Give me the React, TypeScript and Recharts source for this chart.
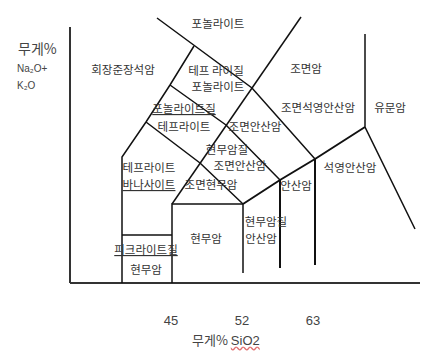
import { ComposedChart, Scatter, XAxis, YAxis } from 'recharts';

document.body.style.margin = '0';

// diagram units: u along SiO2 (axis origin = 0), v along Na2O+K2O
type Pt = { u: number; v: number };

const tickPos = [101, 172, 243];
const tickText = ['45', '52', '63'];

const axisY: Pt[] = [{ u: 0, v: 256 }, { u: 0, v: 0 }];
const axisX: Pt[] = [{ u: 0, v: 0 }, { u: 350, v: 0 }];

const phonoliteTop: Pt[] = [{ u: 87, v: 265 }, { u: 182, v: 195 }, { u: 245, v: 124 }];
const trachyteLeft: Pt[] = [{ u: 231, v: 266 }, { u: 102, v: 79 }];
const foiditeEdge: Pt[] = [{ u: 124, v: 237 }, { u: 100, v: 198 }, { u: 76, v: 161 }, { u: 52, v: 126 }, { u: 52, v: 0 }];
const secondDiag: Pt[] = [{ u: 100, v: 198 }, { u: 156, v: 158 }, { u: 210, v: 103 }];
const thirdDiag: Pt[] = [{ u: 76, v: 161 }, { u: 130, v: 120 }, { u: 173, v: 79 }];
const alkaliLine: Pt[] = [{ u: 173, v: 79 }, { u: 210, v: 103 }, { u: 245, v: 124 }, { u: 295, v: 156 }];
const rhyoliteEdge: Pt[] = [{ u: 295, v: 249 }, { u: 295, v: 156 }, { u: 345, v: 54 }];
const basaltBox: Pt[] = [{ u: 102, v: 0 }, { u: 102, v: 79 }, { u: 173, v: 79 }, { u: 173, v: 10 }];
const line57: Pt[] = [{ u: 210, v: 103 }, { u: 210, v: 15 }];
const line63: Pt[] = [{ u: 245, v: 124 }, { u: 245, v: 18 }];
const picriteTop: Pt[] = [{ u: 52, v: 48 }, { u: 102, v: 48 }];

const thinLines = [phonoliteTop, trachyteLeft, foiditeEdge, secondDiag, thirdDiag, basaltBox, picriteTop, rhyoliteEdge];
const thickLines = [alkaliLine, line57, line63];

const rockNames = [
  '회장준장석암', '포놀라이트', '테프 라이질', '포놀라이트', '포놀라이트질', '테프라이트', '조면안산암',
  '현무암질', '조면안산암', '테프라이트', '바나사이트', '조면현무암', '조면암', '조면석영안산암',
  '유문암', '석영안산암', '안산암', '현무암질', '안산암', '현무암', '피크라이트질', '현무암',
];
const nameU = [53, 148, 146, 148, 114, 114, 185, 157, 170, 79, 79, 141, 236, 248, 320, 280, 226, 196, 191, 136, 76, 76];
const nameV = [214, 260, 213, 197, 175, 157, 157, 134, 118, 116, 99, 99, 215, 176, 176, 116, 98, 62, 45, 45, 34, 14];
const wavy = ['포놀라이트질', '바나사이트', '피크라이트질'];

const labels = rockNames.map((name, i) => ({ u: nameU[i], v: nameV[i], name }));

const FONT = "'Noto Sans CJK KR', sans-serif";
const noDot = () => <g />;

function NameShape(props: any) {
  const { cx, cy, payload } = props;
  const under = wavy.includes(payload.name);
  return (
    <text
      x={cx}
      y={cy}
      textAnchor="middle"
      dominantBaseline="central"
      fontSize={11.5}
      fontFamily={FONT}
      fill="#333"
      style={under ? { textDecoration: 'underline', textDecorationColor: '#e89a9a' } : undefined}
    >
      {payload.name}
    </text>
  );
}

function Tick(props: any) {
  const { x, y, payload } = props;
  const i = tickPos.indexOf(payload.value);
  return (
    <text x={x} y={y} dy={37} textAnchor="middle" dominantBaseline="central" fontSize={13} fontFamily="'Liberation Sans', sans-serif" fill="#444">
      {tickText[i]}
    </text>
  );
}

export default function App() {
  return (
    <div style={{ position: 'relative', width: 427, height: 358, background: '#fff', fontFamily: FONT }}>
      <ComposedChart width={427} height={358} margin={{ top: 10, right: 7, left: 70, bottom: 0 }}>
        <XAxis
          type="number"
          dataKey="u"
          domain={[0, 350]}
          ticks={tickPos}
          tick={<Tick />}
          axisLine={false}
          tickLine={false}
          tickSize={0}
          tickMargin={0}
          height={75}
        />
        <YAxis type="number" dataKey="v" domain={[0, 273]} hide />
        <Scatter data={axisY} shape={noDot} line={{ stroke: '#333', strokeWidth: 2 }} isAnimationActive={false} />
        <Scatter data={axisX} shape={noDot} line={{ stroke: '#333', strokeWidth: 2 }} isAnimationActive={false} />
        {thinLines.map((seg, i) => (
          <Scatter key={`t${i}`} data={seg} shape={noDot} line={{ stroke: '#111', strokeWidth: 1.5 }} isAnimationActive={false} />
        ))}
        {thickLines.map((seg, i) => (
          <Scatter key={`k${i}`} data={seg} shape={noDot} line={{ stroke: '#111', strokeWidth: 2 }} isAnimationActive={false} />
        ))}
        <Scatter data={labels} shape={<NameShape />} isAnimationActive={false} />
      </ComposedChart>
      <div style={{ position: 'absolute', left: 18, top: 40, fontSize: 14, lineHeight: '16px', color: '#444' }}>무게%</div>
      <div style={{ position: 'absolute', left: 17, top: 63, fontSize: 10, lineHeight: '12px', color: '#444', fontFamily: "'Liberation Sans', sans-serif" }}>Na₂O+</div>
      <div style={{ position: 'absolute', left: 17, top: 80, fontSize: 10, lineHeight: '12px', color: '#444', fontFamily: "'Liberation Sans', sans-serif" }}>K₂O</div>
      <div style={{ position: 'absolute', left: 192, top: 332, fontSize: 13, lineHeight: '16px', color: '#444', whiteSpace: 'nowrap' }}>
        무게%{' '}
        <span style={{ fontFamily: "'Liberation Sans', sans-serif", textDecoration: 'underline wavy #e07070' }}>SiO2</span>
      </div>
    </div>
  );
}
